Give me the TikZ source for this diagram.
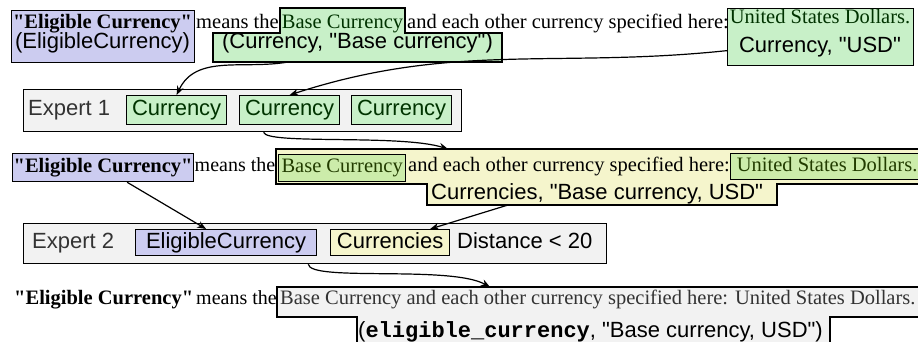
\documentclass[tikz,border=0pt]{standalone}
\usepackage{fontspec}
\setmainfont{Liberation Serif}[Ligatures=TeXOff]
\setsansfont{Liberation Sans}[Ligatures=TeXOff]
\setmonofont{Liberation Mono}
\usepackage{xcolor}
\usetikzlibrary{arrows.meta,calc,positioning}
\definecolor{bluefill}{RGB}{204,204,240}
\definecolor{greenfill}{RGB}{200,240,200}
\definecolor{greentext}{RGB}{0,51,0}
\definecolor{yellowfill}{RGB}{245,245,204}
\definecolor{olivefill}{RGB}{204,236,170}
\definecolor{olivetext}{RGB}{34,60,0}
\definecolor{grayfill}{RGB}{242,242,242}
\definecolor{graytext}{RGB}{51,51,51}
\newcommand{\serifsize}{\rmfamily\fontsize{20.5}{24}\selectfont}
\newcommand{\sanssize}{\sffamily\fontsize{22}{26}\selectfont}

\begin{document}
\begin{tikzpicture}[x=1pt,y=-1pt,>={Stealth[length=9pt,width=7pt]},
  serif/.style={font=\serifsize,inner sep=0pt},
  sans/.style={font=\sanssize,inner sep=0pt},
  outline/.style={draw=black,line width=1.25pt},
  box/.style={outline,inner sep=0pt,anchor=north west},
  sbox/.style={box,font=\sanssize,text height=16pt,text depth=5pt},
  rbox/.style={box,font=\serifsize,text height=14pt,text depth=5pt},
  link/.style={->,line width=1.2pt}]
\useasboundingbox (0,0) rectangle (918,341);
\clip (0,0) rectangle (918,341);

\node[box,fill=bluefill,minimum width=183pt,minimum height=52pt] (b1) at (11,10) {};
\node[serif,anchor=base] (b1t) at (102.5,28) {\bfseries"Eligible Currency"};
\node[sans,anchor=base] (b1s) at (102.5,48) {(EligibleCurrency)};
\node[serif,anchor=base west] (m1) at (196,28) {means the};
\path[outline,fill=greenfill] (280,8) -- (405,8) -- (405,33) -- (502,33) -- (502,62) -- (213,62) -- (213,33) -- (280,33) -- cycle;
\node[serif,anchor=base,text=greentext] (g1t) at (342.5,28) {Base Currency};
\node[sans,anchor=base] (g1s) at (357.5,48) {(Currency, "Base currency")};
\coordinate (g1out) at (288,62);
\node[serif,anchor=base west] (a1) at (407,28) {and each other currency specified here:};
\node[box,fill=greenfill,minimum width=186pt,minimum height=57pt] (g2) at (727,8) {};
\node[serif,anchor=base,text=greentext] (g2t) at (820,23.5) {United States Dollars.};
\node[sans,anchor=base] (g2s) at (820,52) {Currency, "USD"};

\node[box,fill=grayfill,minimum width=438pt,minimum height=42pt] (e1) at (23,89) {};
\node[sans,anchor=base west,text=graytext] (e1t) at (28,115) {Expert 1};
\node[sbox,fill=greenfill,text=greentext,minimum width=100pt,minimum height=29pt] (c1) at (126,95) {Currency};
\node[sbox,fill=greenfill,text=greentext,minimum width=100pt,minimum height=29pt] (c2) at (239,95) {Currency};
\node[sbox,fill=greenfill,text=greentext,minimum width=100pt,minimum height=29pt] (c3) at (351,95) {Currency};

\draw[link] (g1out) to[out=190,in=65] (c1.north);
\draw[link] ([yshift=-13.5pt]g2.west) to[out=186,in=18] (c2.north);

\node[rbox,fill=bluefill,minimum width=181pt,minimum height=28pt] (b3) at (12,153) {\bfseries"Eligible Currency"};
\node[serif,anchor=base west,font=\rmfamily\fontsize{20}{24}\selectfont] (m3) at (194.5,171) {means the};
\path[outline,fill=yellowfill] (276,149) -- (925,149) -- (925,184) -- (777,184) -- (777,205) -- (427,205) -- (427,184) -- (276,184) -- cycle;
\coordinate (ytop) at (448,149);
\coordinate (ybot) at (508,205);
\node[rbox,fill=olivefill,text=olivetext,minimum width=127pt,minimum height=27pt] (y1) at (278,154) {Base Currency};
\node[serif,anchor=base west] (a3) at (408,171) {and each other currency specified here:};
\node[rbox,fill=olivefill,text=olivetext,minimum width=193pt,minimum height=26pt] (y2) at (730,153) {United States Dollars.};
\node[sans,anchor=base west] (y3) at (431,199) {Currencies, "Base currency, USD"};

\draw[link] ([xshift=-26pt]c2.south |- e1.south) .. controls (266,145) and (400,134) .. (ytop);

\node[box,fill=grayfill,minimum width=583pt,minimum height=40pt] (e2) at (23,223) {};
\node[sans,anchor=base west,text=graytext] (e2t) at (32,248) {Expert 2};
\node[sbox,fill=bluefill,minimum width=181pt,minimum height=26pt] (ec) at (135,229) {EligibleCurrency};
\node[sbox,fill=yellowfill,minimum width=119pt,minimum height=26pt] (cs) at (330,229) {Currencies};
\node[sans,anchor=base west] (dist) at (457,248) {Distance < 20};

\draw[link] ([xshift=24pt]b3.south) -- ([xshift=-20pt]ec.north);
\draw[link] (ybot) -- ([xshift=40pt]cs.north);

\node[serif,anchor=base west] (b5) at (14,304) {\bfseries"Eligible Currency"};
\node[serif,anchor=base west,font=\rmfamily\fontsize{20}{24}\selectfont] (m5) at (196,304) {means the};
\path[outline,fill=grayfill] (277,287) -- (925,287) -- (925,317) -- (830,317) -- (830,350) -- (357,350) -- (357,317) -- (277,317) -- cycle;
\coordinate (gtop) at (490,287);
\node[serif,anchor=base west,text=graytext] (t5) at (280,304) {Base Currency and each other currency specified here: United States Dollars.};
\node[sans,anchor=base west] (s5) at (358,337) {({\ttfamily\bfseries eligible\_currency}, "Base currency, USD")};

\draw[link] ([xshift=-9pt]ec.south east |- e2.south) .. controls (310,282) and (450,265) .. (gtop);
\end{tikzpicture}
\end{document}
